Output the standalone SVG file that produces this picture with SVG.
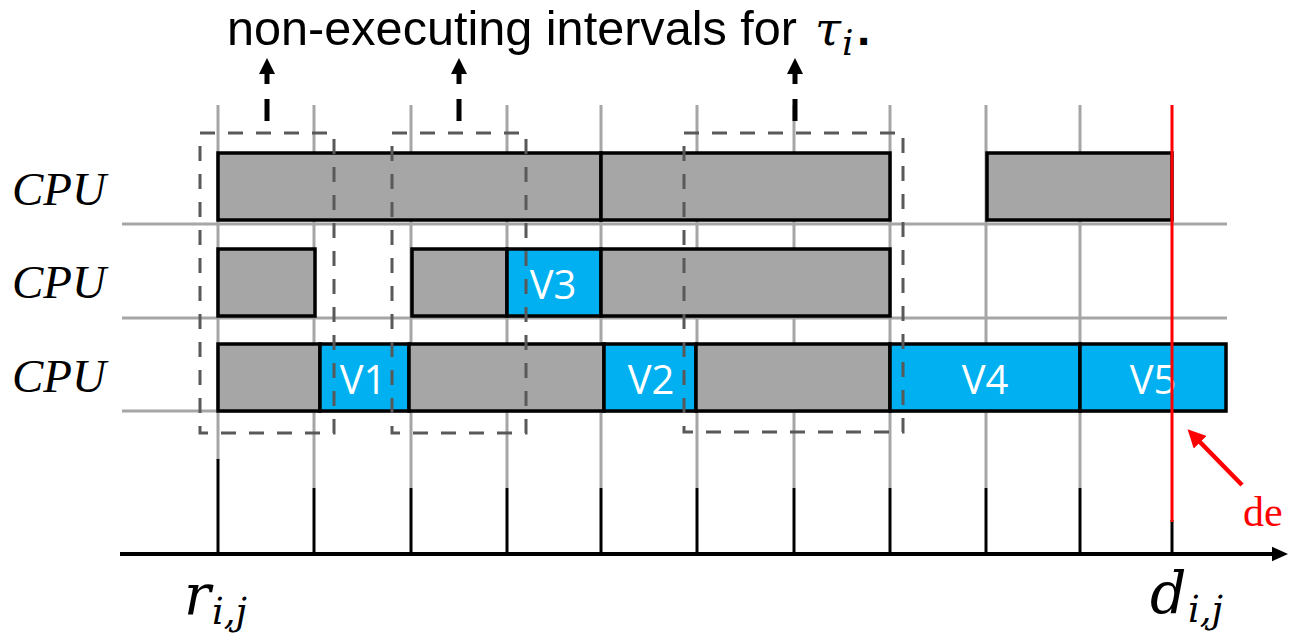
<svg xmlns="http://www.w3.org/2000/svg" width="1289" height="641" viewBox="0 0 1289 641">
  <style>
    .grid { stroke: #A6A6A6; stroke-width: 3; fill: none; }
    .tick { stroke: #000; stroke-width: 3; fill: none; }
    .busy { fill: #A6A6A6; stroke: #000; stroke-width: 3.5; }
    .job { fill: #00B0F0; stroke: #000; stroke-width: 3.5; }
    .vlab { font-family: "Open Sans", "Liberation Sans", sans-serif; font-size: 40px; fill: #fff; text-anchor: middle; }
    .cpu { font-family: "Liberation Serif", serif; font-style: italic; font-size: 47px; fill: #000; }
    .math { font-family: "DejaVu Serif", "Liberation Serif", serif; font-style: italic; fill: #000; }
    .cap { font-family: "Liberation Sans", "Open Sans", sans-serif; font-size: 48px; fill: #000; }
    .win { fill: none; stroke: #595959; stroke-width: 3; stroke-dasharray: 15 13; }
    .up { stroke: #000; stroke-width: 5; fill: none; }
  </style>
  <defs>
    <marker id="axisHead" markerWidth="4" markerHeight="4" refX="1" refY="2" orient="auto" markerUnits="strokeWidth">
      <path d="M0,0.2 L4,2 L0,3.8 z" fill="#000"/>
    </marker>
    <marker id="redHead" markerWidth="4" markerHeight="4" refX="1" refY="2" orient="auto" markerUnits="strokeWidth">
      <path d="M0,0 L4,2 L0,4 z" fill="#FF0000"/>
    </marker>
  </defs>

  <!-- time grid -->
  <g id="grid">
    <line class="grid" x1="122" y1="224" x2="1227" y2="224"/>
    <line class="grid" x1="122" y1="318" x2="1227" y2="318"/>
    <line class="grid" x1="122" y1="411" x2="1227" y2="411"/>
    <line class="grid" x1="218" y1="105" x2="218" y2="460"/>
    <line class="grid" x1="314" y1="105" x2="314" y2="488"/>
    <line class="grid" x1="411" y1="105" x2="411" y2="488"/>
    <line class="grid" x1="507" y1="105" x2="507" y2="488"/>
    <line class="grid" x1="601" y1="105" x2="601" y2="488"/>
    <line class="grid" x1="697" y1="105" x2="697" y2="488"/>
    <line class="grid" x1="794" y1="105" x2="794" y2="488"/>
    <line class="grid" x1="890" y1="105" x2="890" y2="488"/>
    <line class="grid" x1="986" y1="105" x2="986" y2="488"/>
    <line class="grid" x1="1080" y1="105" x2="1080" y2="488"/>
  </g>

  <!-- processor labels -->
  <g id="labels">
    <text class="cpu" x="12" y="205">CPU</text>
    <text class="cpu" x="12" y="298">CPU</text>
    <text class="cpu" x="12" y="392">CPU</text>
  </g>

  <!-- processor 1 -->
  <g id="cpu1">
    <rect class="busy" x="218" y="153" width="383" height="67"/>
    <rect class="busy" x="601" y="153" width="289" height="67"/>
    <rect class="busy" x="987" y="153" width="185" height="67"/>
  </g>

  <!-- processor 2 -->
  <g id="cpu2">
    <rect class="busy" x="218" y="249" width="97" height="67"/>
    <rect class="busy" x="412" y="249" width="95" height="67"/>
    <rect class="job" x="507" y="249" width="94" height="67"/>
    <rect class="busy" x="601" y="249" width="289" height="67"/>
    <text class="vlab" x="553" y="299">V3</text>
  </g>

  <!-- processor 3 -->
  <g id="cpu3">
    <rect class="busy" x="218" y="344" width="102" height="67"/>
    <rect class="job" x="320" y="344" width="89" height="67"/>
    <rect class="busy" x="409" y="344" width="195" height="67"/>
    <rect class="job" x="604" y="344" width="92" height="67"/>
    <rect class="busy" x="696" y="344" width="194" height="67"/>
    <rect class="job" x="890" y="344" width="190" height="67"/>
    <rect class="job" x="1080" y="344" width="146" height="67"/>
    <text class="vlab" x="363" y="394">V1</text>
    <text class="vlab" x="651" y="394">V2</text>
    <text class="vlab" x="985" y="394">V4</text>
    <text class="vlab" x="1153" y="394">V5</text>
  </g>

  <!-- non-executing windows -->
  <g id="windows">
    <rect class="win" x="200" y="133" width="134" height="300"/>
    <rect class="win" x="392" y="133" width="134" height="300"/>
    <rect class="win" x="684" y="133" width="219" height="299"/>
  </g>

  <!-- caption -->
  <g id="caption">
    <text class="cap" x="227" y="45" textLength="570" lengthAdjust="spacingAndGlyphs">non-executing intervals for</text>
    <text class="math" x="815" y="45" font-size="47">τ</text>
    <text class="math" x="842" y="55" font-size="36">i</text>
    <text class="cap" x="857" y="45" font-weight="bold">.</text>
  </g>

  <!-- connectors -->
  <g id="connectors">
    <!-- pointers from windows to caption -->
    <line class="up" x1="267" y1="121" x2="267" y2="99"/>
    <line class="up" x1="267" y1="84" x2="267" y2="72"/>
    <path d="M259,74 L267,58 L275,74 z" fill="#000"/>
    <line class="up" x1="459" y1="121" x2="459" y2="99"/>
    <line class="up" x1="459" y1="84" x2="459" y2="72"/>
    <path d="M451,74 L459,58 L467,74 z" fill="#000"/>
    <line class="up" x1="795" y1="121" x2="795" y2="99"/>
    <line class="up" x1="795" y1="84" x2="795" y2="72"/>
    <path d="M787,74 L795,58 L803,74 z" fill="#000"/>

    <!-- time axis and ticks -->
    <line class="tick" x1="218" y1="459" x2="218" y2="553"/>
    <line class="tick" x1="314" y1="488" x2="314" y2="553"/>
    <line class="tick" x1="411" y1="488" x2="411" y2="553"/>
    <line class="tick" x1="507" y1="488" x2="507" y2="553"/>
    <line class="tick" x1="601" y1="488" x2="601" y2="553"/>
    <line class="tick" x1="697" y1="488" x2="697" y2="553"/>
    <line class="tick" x1="794" y1="488" x2="794" y2="553"/>
    <line class="tick" x1="890" y1="488" x2="890" y2="553"/>
    <line class="tick" x1="986" y1="488" x2="986" y2="553"/>
    <line class="tick" x1="1080" y1="488" x2="1080" y2="553"/>
    <line class="tick" x1="1172" y1="520" x2="1172" y2="553"/>
    <line x1="120" y1="554" x2="1276" y2="554" stroke="#000" stroke-width="4" marker-end="url(#axisHead)"/>

    <!-- deadline -->
    <line x1="1172" y1="105" x2="1172" y2="522" stroke="#FF0000" stroke-width="3"/>
    <line x1="1242" y1="485" x2="1197" y2="439" stroke="#FF0000" stroke-width="4.5" marker-end="url(#redHead)"/>
  </g>

  <!-- time labels -->
  <g id="timeLabels">
    <text class="math" x="184" y="614" font-size="56">r</text>
    <text class="math" x="212" y="624" font-size="37">i,j</text>
    <text class="math" x="1150" y="613" font-size="57">d</text>
    <text class="math" x="1188" y="622" font-size="37">i,j</text>
    <text x="1243" y="526" font-family="Liberation Serif, serif" font-size="42" fill="#FF0000">de</text>
  </g>
</svg>
